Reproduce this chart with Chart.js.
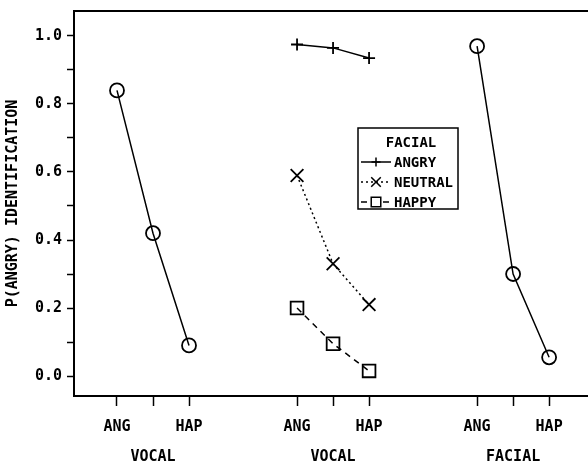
<!DOCTYPE html>
<html>
<head>
<meta charset="utf-8">
<script src="https://cdn.jsdelivr.net/npm/chart.js@4/dist/chart.umd.min.js"></script>
<style>
  html, body { margin: 0; padding: 0; background: #fff; overflow: hidden; }
  canvas { display: block; }
</style>
</head>
<body>
<canvas id="chart" width="588" height="465"></canvas>
<script>
// Axis layout data
const xTicks = [0, 1, 2, 5, 6, 7, 10, 11, 12];
const xTickLabels = ['ANG', '', 'HAP', 'ANG', '', 'HAP', 'ANG', '', 'HAP'];
const groupCenters = [1, 6, 11];
const groupLabels = ['VOCAL', 'VOCAL', 'FACIAL'];
const yTicks = [0, 0.1, 0.2, 0.3, 0.4, 0.5, 0.6, 0.7, 0.8, 0.9, 1.0];

// Vocal only panel
const vocalX = [0, 1, 2];
const vocalOnly = [0.84, 0.42, 0.09];

// Bimodal panel (vocal level x facial level)
const bimodalX = [5, 6, 7];
const facialAngry = [0.975, 0.965, 0.935];
const facialNeutral = [0.59, 0.33, 0.21];
const facialHappy = [0.20, 0.095, 0.015];

// Facial only panel
const facialX = [10, 11, 12];
const facialOnly = [0.97, 0.30, 0.055];

const FONT = 'DejaVu Sans Mono';

function toPoints(xs, ys) {
    return xs.map(function(x, i) { return { x: x, y: ys[i] }; });
}

function makeSet(label, xs, ys, style, radius, dash) {
    return {
        label: label,
        data: toPoints(xs, ys),
        borderColor: '#000',
        borderWidth: 1.5,
        borderDash: dash,
        pointStyle: style,
        pointRadius: radius,
        pointBorderWidth: 1.8,
        pointBorderColor: '#000',
        pointBackgroundColor: 'rgba(0,0,0,0)',
        fill: false,
        tension: 0
    };
}

const datasets = [
    makeSet('VOCAL', vocalX, vocalOnly, 'circle', 7, []),
    makeSet('ANGRY', bimodalX, facialAngry, 'cross', 6, []),
    makeSet('NEUTRAL', bimodalX, facialNeutral, 'crossRot', 9, [2, 3]),
    makeSet('HAPPY', bimodalX, facialHappy, 'rect', 9, [6, 5]),
    makeSet('FACIAL', facialX, facialOnly, 'circle', 7, [])
];

// Legend box drawn inside the plot
const legendPlugin = {
    id: 'boxLegend',
    afterDraw: function(chart) {
        const ctx = chart.ctx;
        const left = 358, top = 128, w = 100, h = 81;
        ctx.save();
        ctx.strokeStyle = '#000';
        ctx.lineWidth = 1.5;
        ctx.strokeRect(left, top, w, h);
        ctx.fillStyle = '#000';
        ctx.font = 'bold 14px "' + FONT + '"';
        ctx.textBaseline = 'middle';
        ctx.textAlign = 'center';
        ctx.fillText('FACIAL', left + 53, top + 15);
        ctx.textAlign = 'left';
        [1, 2, 3].forEach(function(di, row) {
            const ds = chart.data.datasets[di];
            const y = top + 34 + row * 20;
            ctx.setLineDash(ds.borderDash);
            ctx.lineWidth = 1.5;
            ctx.beginPath();
            ctx.moveTo(left + 3, y);
            ctx.lineTo(left + 33, y);
            ctx.stroke();
            ctx.setLineDash([]);
            ctx.fillStyle = '#fff';
            Chart.helpers.drawPoint(ctx, {
                pointStyle: ds.pointStyle,
                radius: ds.pointRadius * 0.75,
                rotation: 0,
                borderWidth: 1.5
            }, left + 18, y);
            ctx.fillStyle = '#000';
            ctx.fillText(ds.label, left + 36, y + 1);
        });
        ctx.restore();
    }
};

// Top frame line, bottom axis run to the edge, panel names
const framePlugin = {
    id: 'frame',
    afterDraw: function(chart) {
        const ctx = chart.ctx;
        const area = chart.chartArea;
        const xs = chart.scales.x;
        ctx.save();
        ctx.strokeStyle = '#000';
        ctx.lineWidth = 2;
        ctx.beginPath();
        ctx.moveTo(area.left, area.top);
        ctx.lineTo(chart.width, area.top);
        ctx.moveTo(area.right - 1, area.bottom);
        ctx.lineTo(chart.width, area.bottom);
        ctx.stroke();
        ctx.fillStyle = '#000';
        ctx.font = 'bold 15px "' + FONT + '"';
        ctx.textAlign = 'center';
        ctx.textBaseline = 'middle';
        groupCenters.forEach(function(c, i) {
            ctx.fillText(groupLabels[i], xs.getPixelForValue(c), 457);
        });
        ctx.restore();
    }
};

new Chart(document.getElementById('chart'), {
    type: 'line',
    data: { datasets: datasets },
    options: {
        responsive: false,
        animation: false,
        devicePixelRatio: 1,
        layout: { padding: { top: 11, right: 0, left: 0, bottom: 0 } },
        plugins: {
            legend: { display: false },
            tooltip: { enabled: false }
        },
        scales: {
            x: {
                type: 'linear',
                min: -1.194,
                max: 12.78,
                afterBuildTicks: function(scale) {
                    scale.ticks = xTicks.map(function(v) { return { value: v }; });
                },
                afterFit: function(scale) {
                    scale.height = 69;
                    scale.paddingLeft = 0;
                    scale.paddingRight = 0;
                },
                ticks: {
                    autoSkip: false,
                    maxRotation: 0,
                    color: '#000',
                    padding: 12,
                    font: { family: FONT, size: 15, weight: 'bold' },
                    callback: function(value, index) { return xTickLabels[index]; }
                },
                grid: {
                    drawOnChartArea: false,
                    drawTicks: true,
                    tickLength: 10,
                    tickWidth: 1.5,
                    tickColor: '#000'
                },
                border: { display: true, color: '#000', width: 2 }
            },
            y: {
                type: 'linear',
                min: -0.0588,
                max: 1.0735,
                afterBuildTicks: function(scale) {
                    scale.ticks = yTicks.map(function(v) { return { value: v }; });
                },
                afterFit: function(scale) {
                    scale.width = 74;
                    scale.paddingTop = 0;
                    scale.paddingBottom = 0;
                },
                ticks: {
                    autoSkip: false,
                    color: '#000',
                    padding: 5,
                    font: { family: FONT, size: 15, weight: 'bold' },
                    callback: function(value) {
                        return Math.round(value * 10) % 2 === 0 ? value.toFixed(1) : '';
                    }
                },
                grid: {
                    drawOnChartArea: false,
                    drawTicks: true,
                    tickLength: 7,
                    tickWidth: 1.5,
                    tickColor: '#000'
                },
                border: { display: true, color: '#000', width: 2 },
                title: {
                    display: true,
                    text: 'P(ANGRY) IDENTIFICATION',
                    color: '#000',
                    padding: { top: 4, bottom: 0 },
                    font: { family: FONT, size: 15, weight: 'bold' }
                }
            }
        }
    },
    plugins: [legendPlugin, framePlugin]
});
</script>
</body>
</html>
